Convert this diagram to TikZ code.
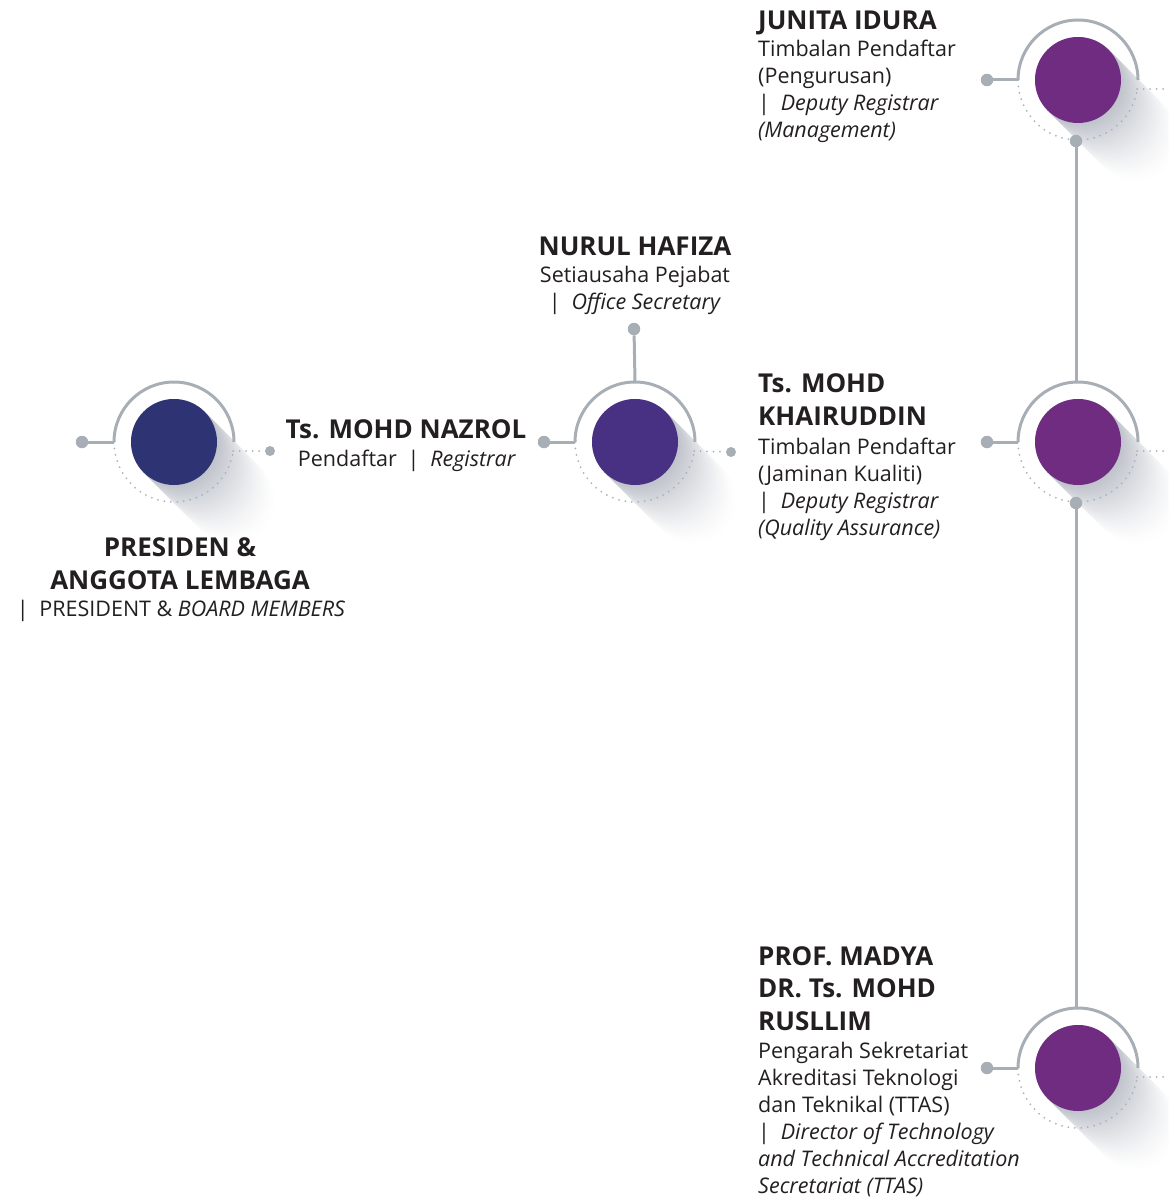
\documentclass[tikz,border=0pt]{standalone}
\usepackage{fontspec}
\setmainfont{Open Sans}
\usetikzlibrary{calc}

\definecolor{linegray}{RGB}{168,174,181}
\definecolor{dotgray}{RGB}{172,177,184}
\definecolor{shadowgray}{RGB}{190,194,202}
\definecolor{inkdark}{RGB}{35,31,32}
\definecolor{navyorb}{RGB}{46,51,116}
\definecolor{indigoorb}{RGB}{72,49,131}
\definecolor{plumorb}{RGB}{111,44,128}

\tikzset{
  orb/.style={circle, minimum size=86pt, inner sep=0pt},
  hub/.style={circle, fill=linegray, minimum size=12.5pt, inner sep=0pt},
  tip/.style={circle, fill=linegray, minimum size=10pt, inner sep=0pt},
  rail/.style={draw=linegray, line width=3pt},
  halo/.style={draw=dotgray, line width=2pt, dash pattern=on 0pt off 6.5pt, line cap=round},
  namefont/.style={font=\fontsize{26}{32.5}\selectfont\bfseries, text=inkdark, inner sep=0pt},
  rolefont/.style={font=\fontsize{21.5}{27}\selectfont, text=inkdark, inner sep=0pt},
}

% long soft shadow cast towards the lower right of an orb
\newcommand\orbshadow[1]{%
  \foreach \k in {86,84,...,0}{%
    \pgfmathsetmacro\pct{100*(1-\k/86)^1.5}%
    \fill[shadowgray!\pct!white] ($(#1)+(\k*0.7071,-\k*0.7071)$) circle (43);
  }%
}
% solid upper ring and dotted lower ring around an orb
\newcommand\orbring[1]{%
  \draw[halo] ([xshift=-60pt]#1) arc[start angle=180, end angle=351, radius=60];
  \draw[rail] ([xshift=-60pt]#1) arc[start angle=180, end angle=0, radius=60];
}

\begin{document}
\begin{tikzpicture}[x=1pt,y=1pt]
\useasboundingbox (0,0) rectangle (1168,-1198);
\clip (0,0) rectangle (1168,-1198);

% orb centres
\coordinate (o1) at (174,-442);
\coordinate (o2) at (635,-442);
\coordinate (o3) at (1078,-80);
\coordinate (o4) at (1078,-442);
\coordinate (o5) at (1078,-1068);

\orbshadow{o1}
\orbshadow{o2}
\orbshadow{o3}
\orbshadow{o4}
\orbshadow{o5}

\orbring{o1}
\orbring{o2}
\orbring{o3}
\orbring{o4}
\orbring{o5}

% left hubs
\node[hub] (h1) at (82,-442) {};
\node[hub] (h2) at (544,-442) {};
\node[hub] (h3) at (987,-80) {};
\node[hub] (h4) at (987,-442) {};
\node[hub] (h5) at (987,-1068) {};
\draw[rail] (h1) -- ([xshift=-60pt]o1);
\draw[rail] (h2) -- ([xshift=-60pt]o2);
\draw[rail] (h3) -- ([xshift=-60pt]o3);
\draw[rail] (h4) -- ([xshift=-60pt]o4);
\draw[rail] (h5) -- ([xshift=-60pt]o5);

% dotted exits to the right
\node[tip] (t1) at (270,-451) {};
\node[tip] (t2) at (731,-452) {};
\coordinate (t3) at (1180,-89);
\coordinate (t4) at (1180,-451);
\coordinate (t5) at (1180,-1077);
\foreach \o/\t in {o1/t1,o2/t2,o3/t3,o4/t4,o5/t5}
  \draw[halo] ([shift={(59,-9)}]\o) -- (\t);

% vertical links
\node[hub] (v2) at (634,-329) {};
\draw[rail] (v2) -- ([yshift=60pt]o2);
\draw[rail] ([xshift=-2pt,yshift=-60pt]o3) -- ([xshift=-2pt,yshift=60pt]o4);
\draw[rail] ([xshift=-2pt,yshift=-60pt]o4) -- ([xshift=-2pt,yshift=60pt]o5);
\node[hub] (v3) at ([xshift=-2pt,yshift=-61pt]o3) {};
\node[hub] (v4) at ([xshift=-2pt,yshift=-61pt]o4) {};

% orbs
\node[orb, fill=navyorb] (n1) at (o1) {};
\node[orb, fill=indigoorb] (n2) at (o2) {};
\node[orb, fill=plumorb] (n3) at (o3) {};
\node[orb, fill=plumorb] (n4) at (o4) {};
\node[orb, fill=plumorb] (n5) at (o5) {};

% labels (multi-line nodes are placed by the baseline of their last line)
\node[namefont, anchor=base west] (junName) at (758,-30) {JUNITA IDURA};
\node[rolefont, anchor=base west, align=left] (junRole) at (758,-138)
  {Timbalan Pendaftar\\(Pengurusan)\\|\enspace\textit{Deputy Registrar}\\\textit{(Management)}};

\node[namefont, anchor=base] (nurName) at (635,-255) {NURUL HAFIZA};
\node[rolefont, anchor=base, align=center] (nurRole) at (635,-309)
  {Setiausaha Pejabat\\|\enspace\textit{Office Secretary}};

\node[namefont, anchor=base] (nazName) at (406,-438) {Ts. MOHD NAZROL};
\node[rolefont, anchor=base] (nazRole) at (407,-466) {Pendaftar\enspace|\enspace\textit{Registrar}};

\node[namefont, anchor=base west, align=left] (khaName) at (758,-425) {Ts. MOHD\\KHAIRUDDIN};
\node[rolefont, anchor=base west, align=left] (khaRole) at (758,-535)
  {Timbalan Pendaftar\\(Jaminan Kualiti)\\|\enspace\textit{Deputy Registrar}\\\textit{(Quality Assurance)}};

\node[namefont, anchor=base, align=center] (preName) at (180,-589) {PRESIDEN \&\\ANGGOTA LEMBAGA};
\node[rolefont, anchor=base] (preRole) at (181,-616) {|\enspace PRESIDENT \& \textit{BOARD MEMBERS}};

\node[namefont, anchor=base west, align=left] (rusName) at (758,-1030) {PROF. MADYA\\DR. Ts. MOHD\\RUSLLIM};
\node[rolefont, anchor=base west, align=left] (rusRole) at (758,-1193)
  {Pengarah Sekretariat\\Akreditasi Teknologi\\dan Teknikal (TTAS)\\|\enspace\textit{Director of Technology}\\\textit{and Technical Accreditation}\\\textit{Secretariat (TTAS)}};
\end{tikzpicture}
\end{document}
